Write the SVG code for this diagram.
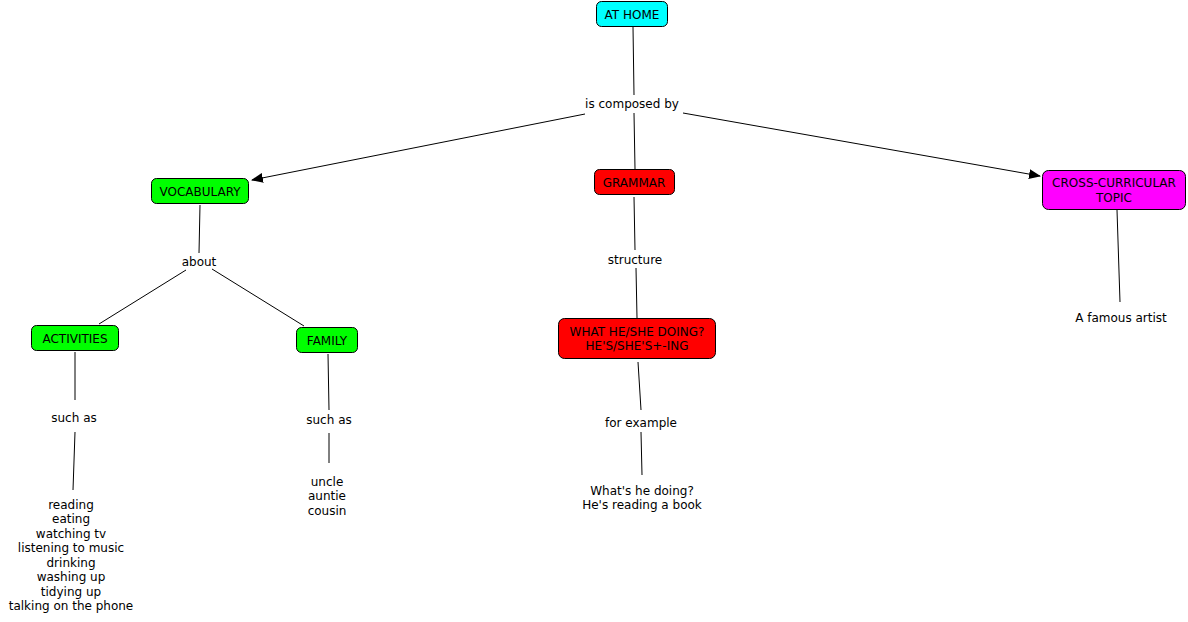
<svg xmlns="http://www.w3.org/2000/svg" width="1188" height="622" viewBox="0 0 1188 622">
<style>
text{font-family:"DejaVu Sans",Verdana,sans-serif;font-size:12px;fill:#000;text-anchor:middle}
.n{stroke:#000;stroke-width:1}
.c{stroke:#000;stroke-width:1;fill:none}
</style>
<defs>
<marker id="a" markerWidth="12" markerHeight="10" refX="11" refY="5" orient="auto" markerUnits="userSpaceOnUse">
<path d="M0,0 L12,5 L0,10 Z" fill="#000"/>
</marker>
</defs>
<rect width="1188" height="622" fill="#fff"/>
<g id="connectors">
<line class="c" x1="633" y1="27" x2="634" y2="95"/>
<line class="c" x1="634" y1="113" x2="635" y2="169"/>
<line class="c" x1="585" y1="114" x2="252" y2="180" marker-end="url(#a)"/>
<line class="c" x1="683" y1="113" x2="1040" y2="176" marker-end="url(#a)"/>
<line class="c" x1="1117" y1="210" x2="1120" y2="302"/>
<line class="c" x1="200" y1="205" x2="199" y2="253"/>
<line class="c" x1="186" y1="270" x2="99" y2="324"/>
<line class="c" x1="212" y1="269" x2="304" y2="326"/>
<line class="c" x1="75" y1="352" x2="75" y2="400"/>
<line class="c" x1="75" y1="432" x2="73" y2="490"/>
<line class="c" x1="328" y1="354" x2="329" y2="410"/>
<line class="c" x1="329" y1="433" x2="329" y2="463"/>
<line class="c" x1="634" y1="197" x2="635" y2="250"/>
<line class="c" x1="636" y1="268" x2="637" y2="318"/>
<line class="c" x1="638" y1="362" x2="641" y2="410"/>
<line class="c" x1="641" y1="432" x2="642" y2="475"/>
</g>
<g id="at-home"><rect class="n" x="596.5" y="1.5" width="71" height="25" rx="5" fill="#00ffff"/><text x="632" y="18.5">AT HOME</text></g>
<g id="is-composed-by"><text x="632" y="107.5">is composed by</text></g>
<g id="vocabulary"><rect class="n" x="151.5" y="178.5" width="97" height="25" rx="5" fill="#00ff00"/><text x="200" y="195.5">VOCABULARY</text></g>
<g id="grammar"><rect class="n" x="594.5" y="169.5" width="80" height="25" rx="5" fill="#ff0000"/><text x="634" y="186.5">GRAMMAR</text></g>
<g id="cross-curricular"><rect class="n" x="1042.5" y="170.5" width="143" height="39" rx="6" fill="#ff00ff"/><text x="1114" y="186.5">CROSS-CURRICULAR</text><text x="1114" y="201.5">TOPIC</text></g>
<g id="a-famous-artist"><text x="1121" y="321.5">A famous artist</text></g>
<g id="about"><text x="199" y="265.5">about</text></g>
<g id="activities"><rect class="n" x="31.5" y="325.5" width="87" height="25" rx="5" fill="#00ff00"/><text x="75" y="342.5">ACTIVITIES</text></g>
<g id="family"><rect class="n" x="296.5" y="327.5" width="61" height="25" rx="5" fill="#00ff00"/><text x="327" y="344.5">FAMILY</text></g>
<g id="such-as-1"><text x="74" y="421.5">such as</text></g>
<g id="such-as-2"><text x="329" y="423.5">such as</text></g>
<g id="activities-list">
<text x="71" y="508.5">reading</text>
<text x="71" y="523">eating</text>
<text x="71" y="537.5">watching tv</text>
<text x="71" y="552">listening to music</text>
<text x="71" y="566.5">drinking</text>
<text x="71" y="581">washing up</text>
<text x="71" y="595.5">tidying up</text>
<text x="71" y="610">talking on the phone</text>
</g>
<g id="family-list">
<text x="327" y="485.5">uncle</text>
<text x="327" y="500">auntie</text>
<text x="327" y="514.5">cousin</text>
</g>
<g id="structure"><text x="635" y="263.5">structure</text></g>
<g id="what-doing"><rect class="n" x="558.5" y="318.5" width="157" height="40" rx="6" fill="#ff0000"/><text x="637" y="335.5">WHAT HE/SHE DOING?</text><text x="637" y="349.5">HE'S/SHE'S+-ING</text></g>
<g id="for-example"><text x="641" y="426.5">for example</text></g>
<g id="example"><text x="642" y="494.5">What's he doing?</text><text x="642" y="509">He's reading a book</text></g>
</svg>
